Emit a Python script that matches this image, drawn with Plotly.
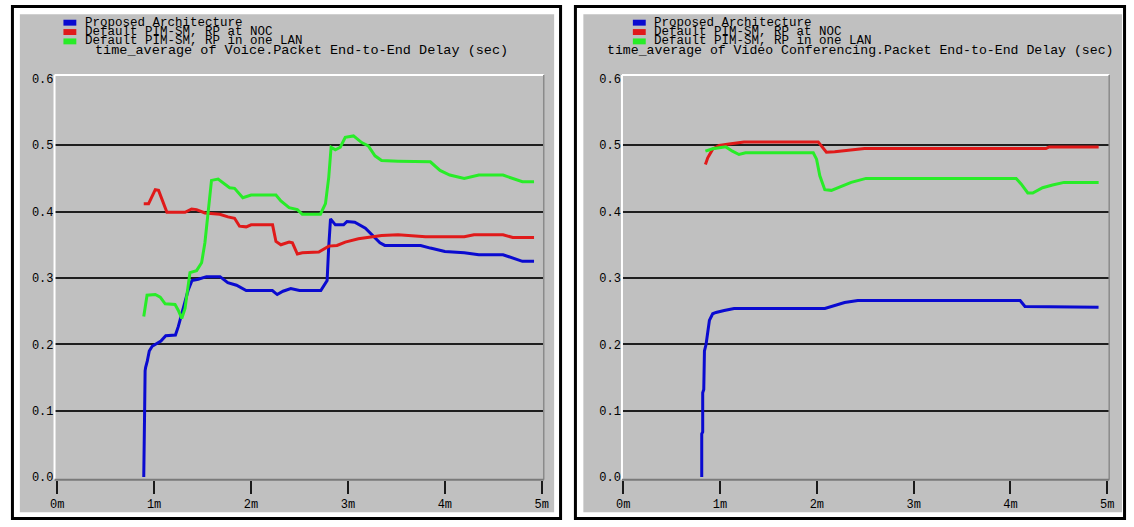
import plotly.graph_objects as go

# ---------------- data (time in minutes, delay in seconds) ----------------
series_names = ["Proposed Architecture", "Default PIM-SM, RP at NOC", "Default PIM-SM, RP in one LAN"]
series_colors = ["#0a0ad0", "#e01a1a", "#28ec28"]

x_tick_vals = [0, 1, 2, 3, 4, 5]
x_tick_text = ["0m", "1m", "2m", "3m", "4m", "5m"]
y_tick_vals = [0.0, 0.1, 0.2, 0.3, 0.4, 0.5, 0.6]
y_tick_text = ["0.0", "0.1", "0.2", "0.3", "0.4", "0.5", "0.6"]
y_grid_vals = [0.1, 0.2, 0.3, 0.4, 0.5]

titles = ["time_average of Voice.Packet End-to-End Delay (sec)",
          "time_average of Video Conferencing.Packet End-to-End Delay (sec)"]

# Voice panel
voice_prop_t = [0.893, 0.895, 0.900, 0.903, 0.907, 0.912, 0.93, 0.95, 0.98, 1.02, 1.07, 1.12, 1.22, 1.25,
                1.30, 1.35, 1.39, 1.455, 1.54, 1.68, 1.76, 1.85, 1.95, 2.22, 2.27, 2.33, 2.41, 2.50, 2.72,
                2.785, 2.80, 2.82, 2.87, 2.955, 2.99, 3.07, 3.18, 3.26, 3.33, 3.38, 3.52, 3.75, 3.85, 4.0,
                4.2, 4.35, 4.6, 4.7, 4.8, 4.92]
voice_prop_v = [0.0, 0.057, 0.06, 0.11, 0.16, 0.165, 0.175, 0.19, 0.197, 0.2, 0.205, 0.213, 0.214, 0.227,
                0.254, 0.281, 0.296, 0.298, 0.302, 0.302, 0.293, 0.289, 0.281, 0.281, 0.275, 0.280, 0.284,
                0.281, 0.281, 0.296, 0.343, 0.389, 0.380, 0.380, 0.385, 0.384, 0.375, 0.363, 0.353, 0.349,
                0.349, 0.349, 0.345, 0.34, 0.338, 0.335, 0.335, 0.33, 0.325, 0.325]

voice_noc_t = [0.893, 0.943, 1.012, 1.046, 1.132, 1.319, 1.387, 1.438, 1.524, 1.677, 1.762, 1.830, 1.881,
               1.950, 2.001, 2.222, 2.257, 2.308, 2.393, 2.427, 2.478, 2.529, 2.699, 2.802, 2.887, 2.972,
               3.108, 3.347, 3.517, 3.8, 4.2, 4.3, 4.6, 4.7, 4.92]
voice_noc_v = [0.412, 0.412, 0.433, 0.432, 0.399, 0.399, 0.404, 0.403, 0.398, 0.396, 0.392, 0.390, 0.378,
               0.377, 0.380, 0.380, 0.355, 0.350, 0.354, 0.353, 0.336, 0.338, 0.339, 0.348, 0.349, 0.354,
               0.359, 0.364, 0.365, 0.362, 0.362, 0.365, 0.365, 0.361, 0.361]

voice_lan_t = [0.893, 0.927, 1.012, 1.063, 1.114, 1.216, 1.250, 1.285, 1.319, 1.370, 1.438, 1.490, 1.524,
               1.558, 1.592, 1.660, 1.728, 1.779, 1.830, 1.915, 2.001, 2.257, 2.308, 2.393, 2.478, 2.529,
               2.716, 2.768, 2.802, 2.826, 2.870, 2.921, 2.972, 3.057, 3.142, 3.210, 3.279, 3.347, 3.517,
               3.85, 3.95, 4.05, 4.2, 4.35, 4.6, 4.7, 4.8, 4.92]
voice_lan_v = [0.242, 0.274, 0.275, 0.271, 0.261, 0.260, 0.251, 0.239, 0.254, 0.308, 0.311, 0.323, 0.353,
               0.402, 0.447, 0.449, 0.441, 0.436, 0.435, 0.421, 0.425, 0.425, 0.416, 0.406, 0.403, 0.396,
               0.396, 0.412, 0.452, 0.497, 0.493, 0.497, 0.512, 0.514, 0.504, 0.499, 0.484, 0.477, 0.476,
               0.475, 0.462, 0.455, 0.45, 0.455, 0.455, 0.45, 0.445, 0.445]

# Video conferencing panel
video_prop_t = [0.811, 0.811, 0.821, 0.821, 0.832, 0.839, 0.856, 0.873, 0.890, 0.924, 0.958, 1.043, 1.145,
                2.083, 2.185, 2.287, 2.423, 4.1, 4.15, 4.91]
video_prop_v = [0.0, 0.065, 0.068, 0.127, 0.132, 0.19, 0.200, 0.221, 0.236, 0.246, 0.248, 0.251, 0.254,
                0.254, 0.258, 0.263, 0.266, 0.266, 0.257, 0.256]

video_noc_t = [0.849, 0.873, 0.924, 0.992, 1.094, 1.247, 2.014, 2.048, 2.099, 2.185, 2.338, 2.492, 4.366,
               4.40, 4.911]
video_noc_v = [0.471, 0.481, 0.494, 0.4995, 0.502, 0.505, 0.505, 0.4985, 0.4896, 0.490, 0.492, 0.495,
               0.495, 0.4975, 0.4975]

video_lan_t = [0.849, 0.924, 1.06, 1.128, 1.196, 1.264, 1.963, 1.997, 2.031, 2.082, 2.150, 2.253, 2.355,
               2.508, 4.059, 4.11, 4.179, 4.23, 4.332, 4.435, 4.553, 4.911]
video_lan_v = [0.491, 0.4946, 0.4975, 0.491, 0.486, 0.4886, 0.4886, 0.479, 0.454, 0.433, 0.432, 0.438,
               0.444, 0.450, 0.450, 0.4416, 0.428, 0.428, 0.436, 0.440, 0.444, 0.444]

panels = [
    [(voice_prop_t, voice_prop_v), (voice_noc_t, voice_noc_v), (voice_lan_t, voice_lan_v)],
    [(video_prop_t, video_prop_v), (video_noc_t, video_noc_v), (video_lan_t, video_lan_v)],
]

# ---------------- layout geometry (pixels) ----------------
W, H = 1134, 527
GRAY = "#c0c0c0"
FONT = "Liberation Mono"

def fx(p):
    return p / W

def fy(p):
    return 1 - p / H

plot_x = [(49, 543), (622, 1114)]
plot_y = (74, 485)
panel_border = [(6.5, 4.5, 560, 524.5), (575, 4.5, 1129.5, 524.5)]
panel_gray = [(14, 12.5, 553.5, 518), (583, 12.5, 1127, 518)]
x_ranges = [[-0.0276, 5.02], [-0.013, 5.02]]
y_range = [-0.0039, 0.606]
legend_swatch_x = [(58, 71), (633, 646)]
legend_text_x = [78, 652]
legend_rows_y = [21, 30.5, 40]
title_pos = [(88, 49), (605, 49)]
title_size = [13.5, 13.2]

fig = go.Figure()
shapes = []
annotations = []

for i, series in enumerate(panels):
    xa = "x" if i == 0 else "x2"
    ya = "y" if i == 0 else "y2"
    for k, (t, v) in enumerate(series):
        fig.add_trace(go.Scatter(x=t, y=v, mode="lines", name=series_names[k],
                                 line=dict(color=series_colors[k], width=3),
                                 xaxis=xa, yaxis=ya, showlegend=False, hoverinfo="skip"))

    # panel background and border
    gx0, gy0, gx1, gy1 = panel_gray[i]
    shapes.append(dict(type="rect", xref="paper", yref="paper", x0=fx(gx0), x1=fx(gx1),
                       y0=fy(gy1), y1=fy(gy0), fillcolor=GRAY, line=dict(width=0), layer="below"))
    bx0, by0, bx1, by1 = panel_border[i]
    shapes.append(dict(type="rect", xref="paper", yref="paper", x0=fx(bx0), x1=fx(bx1),
                       y0=fy(by1), y1=fy(by0), fillcolor="rgba(0,0,0,0)",
                       line=dict(color="#000000", width=3), layer="above"))

    # plot-area edges
    xd = xa + " domain"
    yd = ya + " domain"
    shapes.append(dict(type="line", xref=xd, yref=yd, x0=0, x1=0, y0=0, y1=1,
                       line=dict(color="#ffffff", width=2)))
    shapes.append(dict(type="line", xref=xd, yref=yd, x0=0, x1=1, y0=1, y1=1,
                       line=dict(color="#ffffff", width=2)))
    shapes.append(dict(type="line", xref=xd, yref=yd, x0=1, x1=1, y0=0, y1=1,
                       line=dict(color="#8a8a8a", width=1.5)))
    shapes.append(dict(type="line", xref=xd, yref=yd, x0=0, x1=1, y0=0, y1=0,
                       line=dict(color="#7a7a7a", width=2)))

    # legend (swatch + text)
    sx0, sx1 = legend_swatch_x[i]
    for k, name in enumerate(series_names):
        ry = legend_rows_y[k]
        shapes.append(dict(type="rect", xref="paper", yref="paper", x0=fx(sx0), x1=fx(sx1),
                           y0=fy(ry + 3), y1=fy(ry - 3), fillcolor=series_colors[k],
                           line=dict(width=0), layer="above"))
        annotations.append(dict(text=name, xref="paper", yref="paper", x=fx(legend_text_x[i]),
                                y=fy(ry), xanchor="left", yanchor="middle", showarrow=False,
                                font=dict(family=FONT, size=12.5, color="#000000")))
    tx, ty = title_pos[i]
    annotations.append(dict(text=titles[i], xref="paper", yref="paper", x=fx(tx), y=fy(ty),
                            xanchor="left", yanchor="middle", showarrow=False,
                            font=dict(family=FONT, size=title_size[i], color="#000000")))

axis_common_x = dict(tickmode="array", tickvals=x_tick_vals, ticktext=x_tick_text,
                     ticks="outside", ticklen=13, tickwidth=2, tickcolor="#1a1a1a",
                     showgrid=False, zeroline=False, showline=False, fixedrange=True,
                     tickfont=dict(family=FONT, size=12, color="#000000"))
axis_common_y = dict(tickmode="array", tickvals=y_tick_vals, ticktext=y_tick_text, range=y_range,
                     ticks="", showgrid=False, zeroline=False, showline=False, fixedrange=True,
                     tickfont=dict(family=FONT, size=12, color="#000000"),
                     minor=dict(tickmode="array", tickvals=y_grid_vals, showgrid=True,
                                gridcolor="#1e1e1e", gridwidth=1.5, ticks=""))

fig.update_layout(
    width=W, height=H, margin=dict(l=0, r=0, t=0, b=0),
    paper_bgcolor="#ffffff", plot_bgcolor=GRAY,
    showlegend=False,
    xaxis=dict(domain=[fx(plot_x[0][0]), fx(plot_x[0][1])], range=x_ranges[0], anchor="y", **axis_common_x),
    yaxis=dict(domain=[fy(plot_y[1]), fy(plot_y[0])], anchor="x", **axis_common_y),
    xaxis2=dict(domain=[fx(plot_x[1][0]), fx(plot_x[1][1])], range=x_ranges[1], anchor="y2", **axis_common_x),
    yaxis2=dict(domain=[fy(plot_y[1]), fy(plot_y[0])], anchor="x2", **axis_common_y),
    shapes=shapes, annotations=annotations,
)

fig.write_html("out.html")
